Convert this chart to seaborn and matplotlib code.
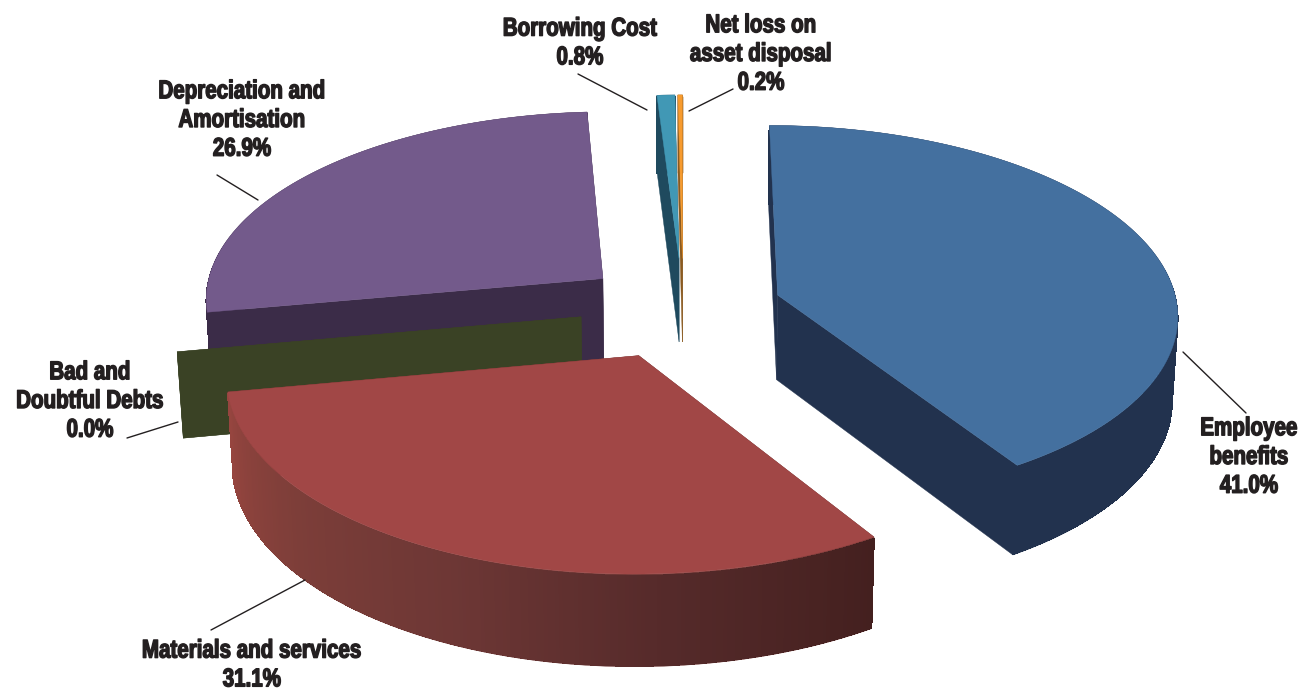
import numpy as np
import matplotlib
matplotlib.use("Agg")
import matplotlib.pyplot as plt
from matplotlib.collections import PolyCollection
from matplotlib.patheffects import AbstractPathEffect
from matplotlib.transforms import Affine2D
import seaborn as sns

# Expense shares, clockwise from twelve o'clock
categories = ["Employee\nbenefits", "Materials and services", "Bad and\nDoubtful Debts",
              "Depreciation and\nAmortisation", "Borrowing Cost", "Net loss on\nasset disposal"]
shares = [41.0, 31.1, 0.0, 26.9, 0.8, 0.2]

# Colours for each slice
top_colors = ["#44709f", "#a14746", "#3a4225", "#735a8b", "#4198b5", "#f79b2e"]
cut_colors = ["#22324e", "#6a302e", "#3a4225", "#3b2c48", "#1f4a5e", "#8a5a20"]
rim_ramps = [["#22324e", "#22324e"],
             ["#44201f", "#552a2a", "#6d3735", "#7d3e39", "#96453f"],
             ["#3a4225", "#3a4225"],
             ["#3b2c48", "#3b2c48"],
             ["#1f4a5e", "#1f4a5e"],
             ["#8a5a20", "#8a5a20"]]
explode = [0.248, 0.27, 0.258, 0.258, 0.27, 0.27]

# Camera parameters of the tilted perspective view (pixels on the axes scale)
CX, CY = 683, 308
SCALE_X, SCALE_Y, THICK = 400, 188, 86
DEPTH_K, DROP_K = 0.095, 0.012

# Labels: text centre and leader line end points
label_pos = [(1249, 457), (252, 665), (90, 401), (242, 120), (580, 43), (761, 54)]
leaders = [((1183, 352), (1246, 413)), ((305, 580), (211, 630)), ((127, 438), (178, 422)),
           ((217, 175), (258, 200)), ((578, 74), (647, 110)), ((733, 89), (689, 111))]
# Painter's order, far slices first
draw_order = [4, 5, 3, 2, 0, 1]


class CondensedBold(AbstractPathEffect):
    """Narrows glyph outlines about a vertical axis and thickens their stems."""

    def __init__(self, axis_x, factor=0.8, stroke=1.0):
        super().__init__()
        self.axis_x, self.factor, self.stroke = axis_x, factor, stroke

    def draw_path(self, renderer, gc, tpath, affine, rgbFace=None):
        squeeze = Affine2D().translate(-self.axis_x, 0).scale(self.factor, 1).translate(self.axis_x, 0)
        gc0 = renderer.new_gc()
        gc0.copy_properties(gc)
        gc0.set_linewidth(self.stroke)
        gc0.set_foreground(rgbFace)
        renderer.draw_path(gc0, tpath, affine + squeeze, rgbFace)
        gc0.restore()


def project(x, y, z):
    s = 1.0 / (1.0 + DEPTH_K * y - DROP_K * z)
    return CX + SCALE_X * x * s, CY - SCALE_Y * y * s + THICK * (-z) * s


sns.set_theme(style="white")
plt.rcParams["font.family"] = ["Liberation Sans"]

fig = plt.figure(figsize=(13.12, 6.93), dpi=100)
ax = fig.add_axes([0, 0, 1, 1])
ax.set_xlim(0, 1312)
ax.set_ylim(693, 0)
ax.axis("off")

fractions = np.array(shares) / sum(shares)
edges = np.concatenate([[0], np.cumsum(fractions)]) * 2 * np.pi

for i in draw_order:
    a0, a1 = edges[i], edges[i + 1]
    mid = (a0 + a1) / 2
    ox, oy = explode[i] * np.sin(mid), explode[i] * np.cos(mid)
    n = max(2, int(np.degrees(a1 - a0)) * 2 + 2)
    ang = np.linspace(a0, a1, n)
    rx, ry = ox + np.sin(ang), oy + np.cos(ang)

    # Flat cut faces at both radial edges
    for ex, ey in ((rx[0], ry[0]), (rx[-1], ry[-1])):
        quad = [project(ox, oy, 0), project(ex, ey, 0), project(ex, ey, -1), project(ox, oy, -1)]
        ax.fill(*zip(*quad), color=cut_colors[i], lw=0.3)

    # Outer rim: a smooth silhouette with shading bands laid over it
    ramp = sns.blend_palette(rim_ramps[i], n_colors=n - 1)
    outline = [project(x, y, 0) for x, y in zip(rx, ry)] + [project(x, y, -1) for x, y in zip(rx[::-1], ry[::-1])]
    ax.fill(*zip(*outline), color=ramp[(n - 1) // 2], lw=0.3)
    quads = [[project(rx[j], ry[j], -0.02), project(rx[j + 1], ry[j + 1], -0.02),
              project(rx[j + 1], ry[j + 1], -0.99), project(rx[j], ry[j], -0.99)] for j in range(n - 1)]
    ax.add_collection(PolyCollection(quads, facecolors=ramp, edgecolors=ramp, linewidths=0.6, antialiaseds=False))

    # Top face
    if a1 > a0:
        top = [project(ox, oy, 0)] + [project(x, y, 0) for x, y in zip(rx, ry)]
        ax.fill(*zip(*top), color=top_colors[i], lw=0.3)

for name, share, (tx, ty), (p, q) in zip(categories, shares, label_pos, leaders):
    label = ax.text(tx, ty, f"{name}\n{share:.1f}%", ha="center", va="center", fontsize=18.5,
                    fontweight="bold", color="#231f20", linespacing=1.25)
    label.set_path_effects([CondensedBold(ax.transData.transform((tx, ty))[0])])
    ax.plot([p[0], q[0]], [p[1], q[1]], color="#231f20", lw=1)

fig.savefig("out.png", dpi=100, facecolor="white")
